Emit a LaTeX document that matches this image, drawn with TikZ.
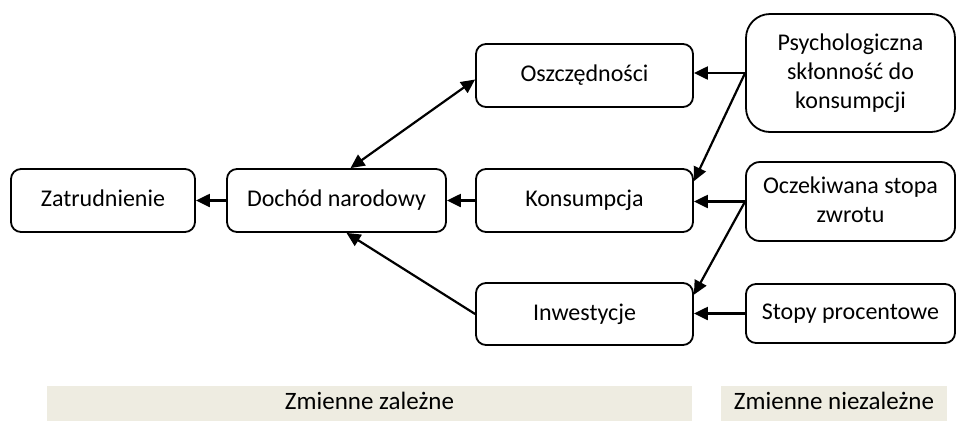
\documentclass[tikz,border=0pt]{standalone}
\usepackage{fontspec}
\setmainfont{Carlito}
\usetikzlibrary{arrows.meta,calc}
\definecolor{bandtan}{HTML}{EEECE1}
\newcommand\topstrut{\rule{0pt}{0.75em}}
\newcommand\botstrut{\rule[-0.25em]{0pt}{0.25em}}
\newcommand\fullstrut{\rule[-0.25em]{0pt}{1em}}
\tikzset{
  box/.style={draw=black, line width=1.8pt, rounded corners=10pt, align=center,
    font=\fontsize{24}{29}\selectfont, inner sep=0pt},
  band/.style={fill=bandtan, draw=none, inner sep=0pt, font=\fontsize{25}{29}\selectfont},
  tip/.tip={Triangle[length=14pt,width=13pt]},
  arr/.style={line width=2.2pt, -tip},
  darr/.style={line width=2.2pt, tip-tip}
}
\begin{document}
\begin{tikzpicture}[x=1pt,y=-1pt]
\useasboundingbox (0,0) rectangle (956,421);
\node[box, minimum width=184pt, minimum height=63pt] (zat) at (103,200.5) {\fullstrut Zatrudnienie};
\node[box, minimum width=219pt, minimum height=63pt] (doch) at (336.5,200.5) {\fullstrut Dochód narodowy};
\node[box, minimum width=217pt, minimum height=63pt] (osz) at (584.5,75.5) {\fullstrut Oszczędności};
\node[box, minimum width=217pt, minimum height=63pt] (kon) at (584.5,200.5) {\fullstrut Konsumpcja};
\node[box, minimum width=217pt, minimum height=62pt] (inw) at (584.5,314) {\fullstrut Inwestycje};
\node[box, rounded corners=24pt, minimum width=209pt, minimum height=118pt] (psy) at (850.5,73) {\topstrut Psychologiczna\\skłonność do\\konsumpcji\botstrut};
\node[box, rounded corners=14pt, minimum width=209pt, minimum height=79pt] (ocz) at (850.5,201.5) {\topstrut Oczekiwana stopa\\zwrotu\botstrut};
\node[box, minimum width=209pt, minimum height=59pt] (sto) at (850.5,313.5) {\fullstrut Stopy procentowe};
\node[band, minimum width=645pt, minimum height=35pt] (b1) at (369.5,403.5) {\fullstrut Zmienne zależne};
\node[band, minimum width=226pt, minimum height=35pt] (b2) at (834,403.5) {\fullstrut Zmienne niezależne};
\draw[arr] (doch.west) -- (zat.east);
\draw[arr] (kon.west) -- (doch.east);
\draw[arr] (inw.west) -- ([xshift=10pt]doch.south);
\draw[darr] ([xshift=14pt]doch.north) -- ([yshift=-4pt]osz.west);
\draw[arr] (psy.west) -- (osz.east |- psy.west);
\draw[arr] (psy.west) -- (kon.10);
\draw[arr] (ocz.west) -- (kon.east |- ocz.west);
\draw[arr] (ocz.west) -- (inw.10);
\draw[arr] (sto.west) -- (inw.east |- sto.west);
\end{tikzpicture}
\end{document}
